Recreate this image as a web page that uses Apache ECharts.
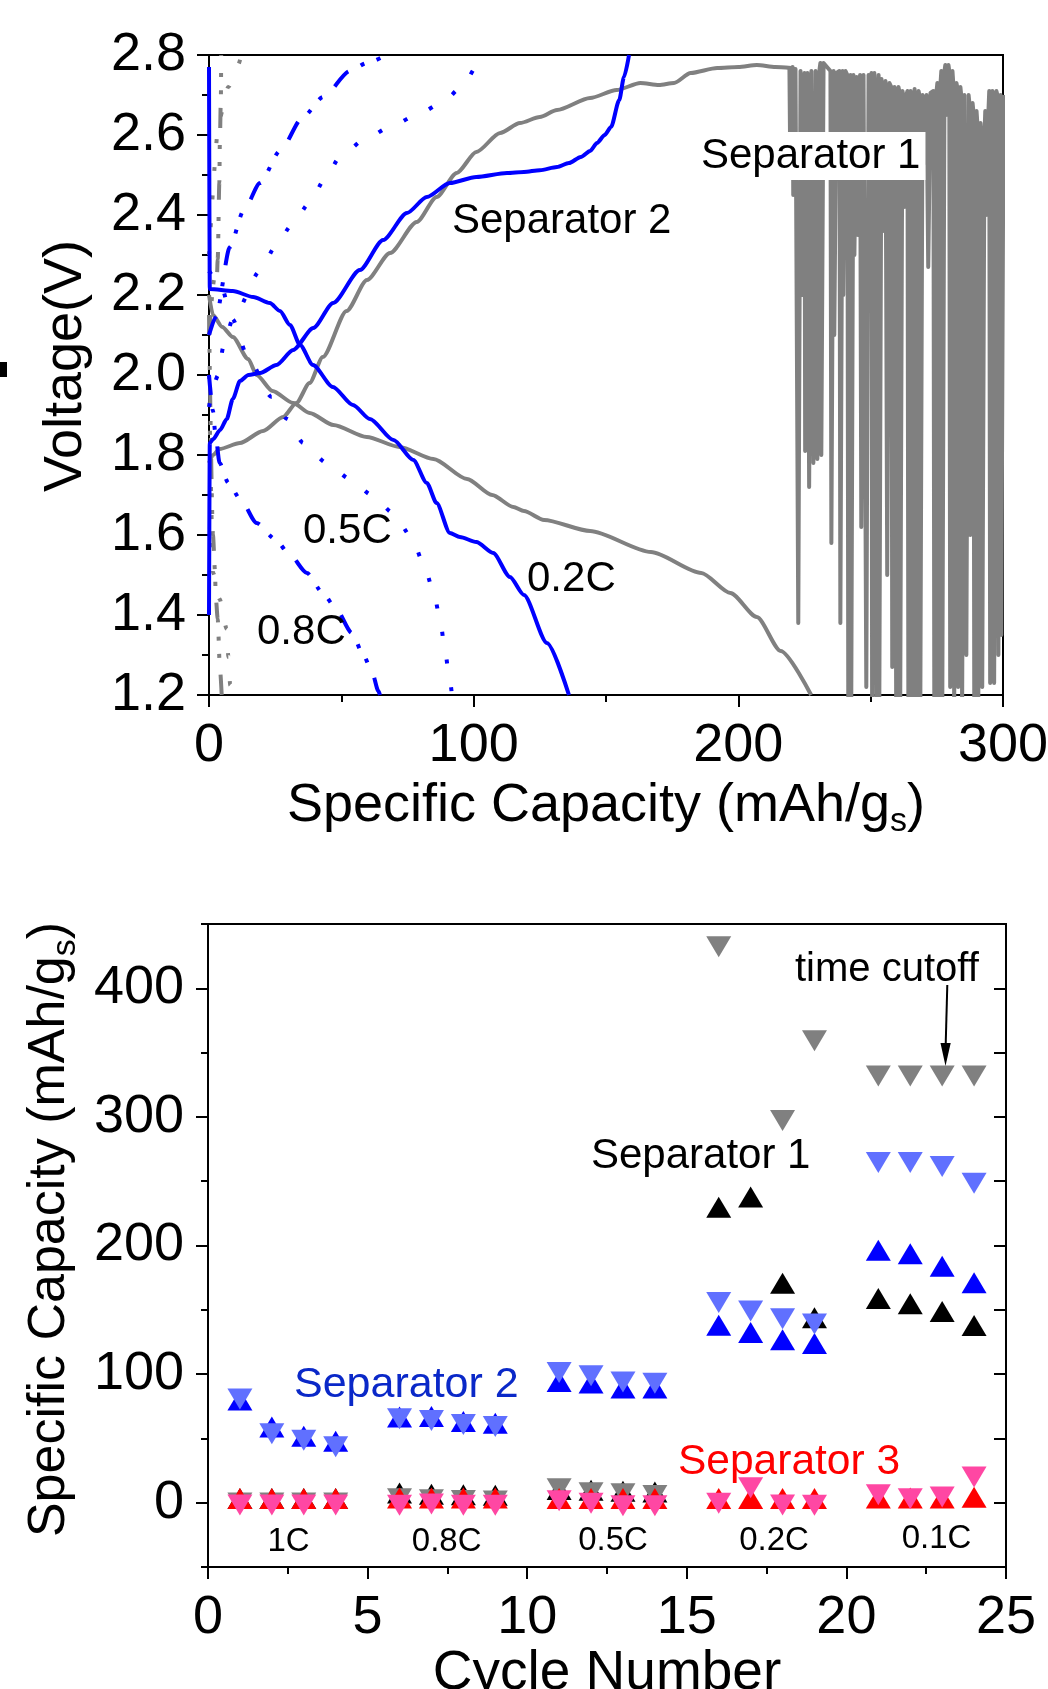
<!DOCTYPE html>
<html><head><meta charset="utf-8">
<script src="https://cdn.jsdelivr.net/npm/echarts@6/dist/echarts.min.js"></script>
<style>html,body{margin:0;padding:0;background:#fff}#c{width:1048px;height:1689px}</style>
</head><body><div id="c"></div>
<script>
// ---------- Top panel: voltage profiles (capacity mAh/g, voltage V) ----------
const sep2_02C_dis = [[0,2.77],[0.3,2.215],[9,2.21],[16.7,2.195],[23,2.18],[26.8,2.16],[30.6,2.125],[34.4,2.075],[39.3,2.025],[46.8,1.97],[54.4,1.925],[60.8,1.89],[69.7,1.8375],[77.2,1.7875],[82.3,1.73],[86,1.68],[91,1.605],[94.8,1.595],[101,1.5825],[107.4,1.555],[113.7,1.495],[119,1.45],[127.7,1.33],[136,1.2]];
const sep2_02C_chg = [[0,1.40],[0.3,1.83],[1.6,1.84],[4.2,1.8625],[6.7,1.89],[9,1.94],[11.7,1.985],[14.9,2.0],[19.3,2.005],[25.5,2.025],[31.8,2.0625],[39.4,2.1175],[46.9,2.18],[57,2.2625],[65.8,2.3375],[74.8,2.405],[82.3,2.445],[91,2.48],[101,2.495],[112.6,2.505],[119,2.5075],[125,2.512],[131.5,2.52],[136,2.53],[140.5,2.545],[144,2.56],[146.6,2.58],[149.5,2.6],[151.9,2.62],[155,2.6875],[156.8,2.745],[158.7,2.8]];
const sep2_05C_chg = [[0,1.92],[3.5,2.0],[5.4,2.07],[9,2.14],[19.3,2.26],[25,2.32],[31.3,2.375],[38,2.43],[43.8,2.49],[49.5,2.545],[59,2.59],[68.4,2.62],[78.5,2.65],[88,2.68],[95.5,2.72],[102,2.78],[104,2.8]];
const sep2_05C_dis = [[0,2.26],[4.2,2.23],[8.8,2.14],[15,2.04],[23.7,1.945],[29.5,1.89],[35.6,1.83],[44.5,1.78],[53.3,1.74],[61.5,1.70],[69.6,1.655],[76.5,1.595],[81,1.53],[84.8,1.46],[87.3,1.39],[89,1.32],[90.7,1.25],[91.8,1.2]];
const sep2_08C_chg = [[0,2.1],[2.6,2.145],[7.9,2.32],[13,2.41],[19.3,2.48],[26.8,2.56],[35.5,2.645],[43.1,2.695],[53.3,2.76],[59.6,2.78],[67,2.8]];
const sep2_08C_dis = [[0,2.0],[1.5,1.91],[2.3,1.86],[4,1.78],[7.3,1.73],[11.8,1.69],[18,1.63],[25,1.59],[30,1.555],[37,1.505],[43,1.455],[47.6,1.42],[54,1.355],[58.3,1.30],[61.5,1.26],[64,1.21],[64.6,1.2]];
const sep1_02C_dis = [[0,2.2],[1.5,2.15],[5,2.12],[9,2.095],[14.8,2.04],[18,2.0],[24,1.96],[31.8,1.93],[38,1.905],[47,1.875],[59.6,1.845],[72,1.82],[84.8,1.79],[97.5,1.74],[107,1.70],[115,1.67],[119,1.66],[126.6,1.6375],[144,1.61],[167,1.5575],[186,1.505],[197,1.455],[207,1.395],[216,1.31],[227.5,1.2]];
const sep1_02C_chg = [[0,1.78],[1.5,1.80],[4,1.815],[11.7,1.83],[20.4,1.86],[28,1.895],[33,1.93],[38,1.98],[43,2.045],[52,2.16],[59.7,2.2375],[68.4,2.305],[78.5,2.3825],[86,2.445],[93.6,2.505],[101,2.5575],[110,2.605],[117.5,2.63],[125,2.645],[131.5,2.6625],[144,2.6925],[154,2.7125],[163,2.73],[170,2.725],[175.7,2.73],[182,2.755],[192,2.7675],[200,2.77],[207,2.775],[214,2.77],[220,2.7675]];
const sep1_05C_chg = [[0,2.3],[3.9,2.64],[7.3,2.72],[11,2.775],[12.2,2.8]];
const sep1_05C_dis = [[0,2.0],[1.6,1.505],[4,1.44],[6.7,1.365],[7.3,1.295],[8,1.225],[8.2,1.2]];
const sep1_08C_chg = [[0,2.1],[2.0,2.24],[2.9,2.23],[3.3,2.29],[3.9,2.48],[4.1,2.58],[4.5,2.70],[4.6,2.8]];
const sep1_08C_dis = [[0,2.15],[1.5,1.6],[2.3,1.506],[2.5,1.45],[3.3,1.39],[4.1,1.27],[4.8,1.2]];
// Separator 1 noisy tail (time cutoff): capacity of each drop, its lowest and highest voltage
const noiseCap    = [219.9,221.0,222.9,224.4,225.5,227.0,228.6,230.1,231.6,235.4,236.5,238.8,239.9,241.8,242.9,244.1,245.4,246.7,248.6,249.7,250.8,252.4,253.5,255.0,256.5,258.4,259.9,261.4,262.9,264.5,266.0,267.5,269.0,270.5,272.0,274.3,275.8,277.3,278.8,280.3,281.8,283.3,284.8,286.4,287.9,289.4,290.9,292.4,293.9,295.4,296.9,298.5,299.6];
const noiseBottom = [2.50,2.45,1.38,2.20,1.81,1.72,1.78,1.79,1.80,1.58,2.10,1.38,2.20,1.15,1.15,2.30,2.35,1.62,1.22,2.45,1.15,1.15,1.15,2.36,1.50,1.27,1.15,1.15,2.42,1.15,1.15,1.15,1.15,2.53,2.27,1.15,1.15,1.15,2.65,1.22,1.15,1.22,1.15,1.30,1.60,1.15,1.15,1.22,2.40,1.23,1.23,1.30,1.35];
const noiseTop    = [2.77,2.765,2.76,2.755,2.755,2.76,2.76,2.765,2.78,2.76,2.755,2.76,2.76,2.75,2.75,2.745,2.75,2.75,2.75,2.755,2.755,2.75,2.74,2.735,2.73,2.72,2.72,2.71,2.70,2.71,2.715,2.71,2.70,2.70,2.705,2.71,2.73,2.76,2.775,2.76,2.73,2.72,2.70,2.70,2.68,2.66,2.63,2.60,2.66,2.71,2.71,2.70,2.70];

// ---------- Bottom panel: rate capability ----------
const cycles   = [1,2,3,4,6,7,8,9,11,12,13,14,16,17,18,19,21,22,23,24];
const sep1Dis  = [0.5,0.5,0.5,0.5,4.8,3.8,3.5,3.0,7.5,6.9,6.1,5.6,227,235,168,141,156,152,146,135];
const sep1Chg  = [2.5,2.5,2.5,2.5,5.8,5.0,4.5,4.0,13.6,10.5,9.7,8.4,435,null,300,362,334.5,334.5,334.5,334.5];
const sep2Dis  = [77.1,56.1,48.9,45,63.9,64.3,60.5,59,91.6,90.3,86.4,86.4,135.3,129.7,124,121.1,193.6,190.8,181.2,168.3];
const sep2Chg  = [83.3,56.3,51.2,46.2,68,66.7,63.6,62,104,101.4,96.5,95.7,158.4,151.7,145.7,141.7,267.2,267.2,264.2,251.2];
const sep3Dis  = [0.5,0.5,0.5,0.5,1,1,1,1,0.5,0.5,0.5,0.5,0.5,0.5,0.5,0.5,1,1,1,1.5];
const sep3Chg  = [0.9,0.9,0.9,0.9,0.7,1.7,0.7,0.7,4.3,2.2,0.4,0.3,2.2,14.4,0.9,0.8,9,5.8,7.1,22.7];
const rateLabels = ['1C','0.8C','0.5C','0.2C','0.1C'];
const topTicksY = [1.2,2.8];

const FONT = '"Liberation Sans", Arial, sans-serif';
const chart = echarts.init(document.getElementById('c'), null, {renderer:'canvas'});

function noiseData(){
  const pts=[];
  for(let i=0;i<noiseCap.length;i++){
    pts.push([noiseCap[i]-0.6,noiseTop[i]],[noiseCap[i]-0.25,noiseBottom[i]],[noiseCap[i]+0.25,noiseBottom[i]],[noiseCap[i]+0.6,noiseTop[i]]);
  }
  return pts;
}
const DOT=[4,24], DDD=[20,14,4,13,4,17];
function ln(data,color,type,smooth){
  return {type:'line',xAxisIndex:0,yAxisIndex:0,data:data,showSymbol:false,symbol:'none',
    smooth:smooth===undefined?0.25:smooth,smoothMonotone:'x',silent:true,clip:true,
    lineStyle:{color:color,width:4,type:type||'solid',cap:'butt',join:'round'}};
}
const UP='path://M1,0 L2,2 L0,2 Z', DOWN='path://M0,0 L2,0 L1,2 Z';
function sc(vals,color,up){
  const d=[];cycles.forEach((c,i)=>{if(vals[i]!==null)d.push([c,vals[i]]);});
  return {type:'scatter',xAxisIndex:1,yAxisIndex:1,data:d,symbol:up?UP:DOWN,symbolSize:[25,21],
    symbolOffset:[0,up?-3.5:3.5],itemStyle:{color:color,opacity:1},silent:true};
}
const axisLineS={show:true,onZero:false,lineStyle:{color:'#000',width:2}};
const tickS=(len,inside)=>({show:true,inside:!!inside,length:len,lineStyle:{color:'#000',width:2}});
const labelS=(m,extra)=>Object.assign({color:'#000',fontSize:54,fontFamily:FONT,margin:m},extra||{});
const subRich=(fs)=>({a:{fontSize:fs,fontFamily:FONT,color:'#000',lineHeight:66,verticalAlign:'middle'},
                     s:{fontSize:34,fontFamily:FONT,color:'#000',lineHeight:34,verticalAlign:'bottom'}});

const txt=(t,x,y,fs,color,extra)=>({type:'text',z:100,style:Object.assign({text:t,x:x,y:y,fontSize:fs,fontFamily:FONT,fill:color||'#000',align:'left',verticalAlign:'middle'},extra||{})});

const option={
  animation:false,
  backgroundColor:'#fff',
  grid:[
    {left:209,top:55,width:794,height:640,show:true,borderColor:'#000',borderWidth:2,backgroundColor:'rgba(0,0,0,0)',containLabel:false,outerBoundsMode:'none'},
    {left:208,top:924,width:798,height:643,show:true,borderColor:'#000',borderWidth:2,backgroundColor:'rgba(0,0,0,0)',containLabel:false,outerBoundsMode:'none'}
  ],
  xAxis:[
    {gridIndex:0,type:'value',min:0,max:300,interval:100,axisLine:axisLineS,axisTick:tickS(12),
     minorTick:{show:true,splitNumber:2,length:7,lineStyle:{color:'#000',width:2}},
     splitLine:{show:false},minorSplitLine:{show:false},axisLabel:labelS(24),
     name:'{a|Specific Capacity (mAh/g}{s|s}{a|)}',nameLocation:'middle',nameGap:78,
     nameTextStyle:{fontSize:54,fontFamily:FONT,color:'#000',rich:subRich(54)}},
    {gridIndex:1,type:'value',min:0,max:25,interval:5,axisLine:axisLineS,axisTick:tickS(12),
     minorTick:{show:true,splitNumber:2,length:7,lineStyle:{color:'#000',width:2}},
     splitLine:{show:false},minorSplitLine:{show:false},axisLabel:labelS(24),
     name:'Cycle Number',nameLocation:'middle',nameGap:74,
     nameTextStyle:{fontSize:55,fontFamily:FONT,color:'#000'}}
  ],
  yAxis:[
    {gridIndex:0,type:'value',min:topTicksY[0],max:topTicksY[1],interval:0.2,axisLine:axisLineS,axisTick:tickS(12),
     minorTick:{show:true,splitNumber:2,length:7,lineStyle:{color:'#000',width:2}},
     splitLine:{show:false},minorSplitLine:{show:false},
     axisLabel:labelS(23,{formatter:v=>v.toFixed(1),padding:[4,0,0,0]}),
     name:'Voltage(V)',nameLocation:'middle',nameRotate:90,nameGap:116,
     nameTextStyle:{fontSize:54,fontFamily:FONT,color:'#000',padding:[0,0,0,18]}},
    {gridIndex:1,type:'value',min:-50,max:450,interval:50,axisLine:axisLineS,axisTick:tickS(7),
     splitLine:{show:false},
     axisLabel:labelS(24,{formatter:v=>(Math.round(v)%100===0?String(Math.round(v)):''),padding:[4,0,0,0]}),
     name:'{a|Specific Capacity (mAh/g}{s|s}{a|)}',nameLocation:'middle',nameRotate:90,nameGap:123,
     nameTextStyle:{fontSize:52,fontFamily:FONT,color:'#000',padding:[0,0,0,32],rich:subRich(52)}},
    {gridIndex:1,type:'value',min:-50,max:450,interval:50,position:'left',axisLine:{show:false},
     axisTick:Object.assign(tickS(12),{customValues:[0,100,200,300,400]}),
     axisLabel:{show:false},splitLine:{show:false}},
    {gridIndex:1,type:'value',min:-50,max:450,interval:50,position:'right',axisLine:axisLineS,
     axisTick:tickS(12,true),axisLabel:{show:false},splitLine:{show:false}}
  ],
  series:[
    ln(sep1_05C_chg,'#808080',DOT),
    ln(sep1_05C_dis,'#808080',DOT),
    ln(sep1_08C_chg,'#808080',DDD),
    ln(sep1_08C_dis,'#808080',DDD),
    ln(sep1_02C_dis,'#808080','solid'),
    ln(sep1_02C_chg,'#808080','solid'),
    ln(noiseData(),'#808080','solid',false),
    ln(sep2_05C_chg,'#0000FF',DOT),
    ln(sep2_05C_dis,'#0000FF',DOT),
    ln(sep2_08C_chg,'#0000FF',DDD),
    ln(sep2_08C_dis,'#0000FF',DDD),
    ln(sep2_02C_dis,'#0000FF','solid'),
    ln(sep2_02C_chg,'#0000FF','solid'),
    sc(sep1Dis,'#000000',true),
    sc(sep1Chg,'#808080',false),
    sc(sep2Dis,'#0000FF',true),
    sc(sep2Chg,'#6070FF',false),
    sc(sep3Dis,'#FF0000',true),
    sc(sep3Chg,'#FF47A3',false)
  ],
  graphic:[
    {type:'rect',z:100,shape:{x:0,y:362,width:7,height:15},style:{fill:'#000'}},
    txt('Separator 1',696,156,42,'#000',{backgroundColor:'#fff',padding:[3,5,3,5]}),
    txt('Separator 2',452,221,42,'#000'),
    txt('0.5C',303,531,42,'#000'),
    txt('0.8C',257,632,42,'#000'),
    txt('0.2C',527,579,42,'#000'),
    txt('time cutoff',795,970,40,'#000'),
    txt('Separator 1',591,1156,42,'#000'),
    txt('Separator 2',294,1385,43,'#0A28C8'),
    txt('Separator 3',678,1462,42.5,'#FF0000'),
    txt(rateLabels[0],288.5,1542,33,'#000',{align:'center'}),
    txt(rateLabels[1],446.7,1542,33,'#000',{align:'center'}),
    txt(rateLabels[2],613,1541,33,'#000',{align:'center'}),
    txt(rateLabels[3],774,1541,33,'#000',{align:'center'}),
    txt(rateLabels[4],936.5,1539,33,'#000',{align:'center'}),
    {type:'line',z:100,shape:{x1:947.3,y1:985,x2:945.6,y2:1048},style:{stroke:'#000',lineWidth:2}},
    {type:'polygon',z:100,shape:{points:[[940.5,1043],[950.7,1043],[945.5,1066]]},style:{fill:'#000'}}
  ]
};
chart.setOption(option);
</script></body></html>
